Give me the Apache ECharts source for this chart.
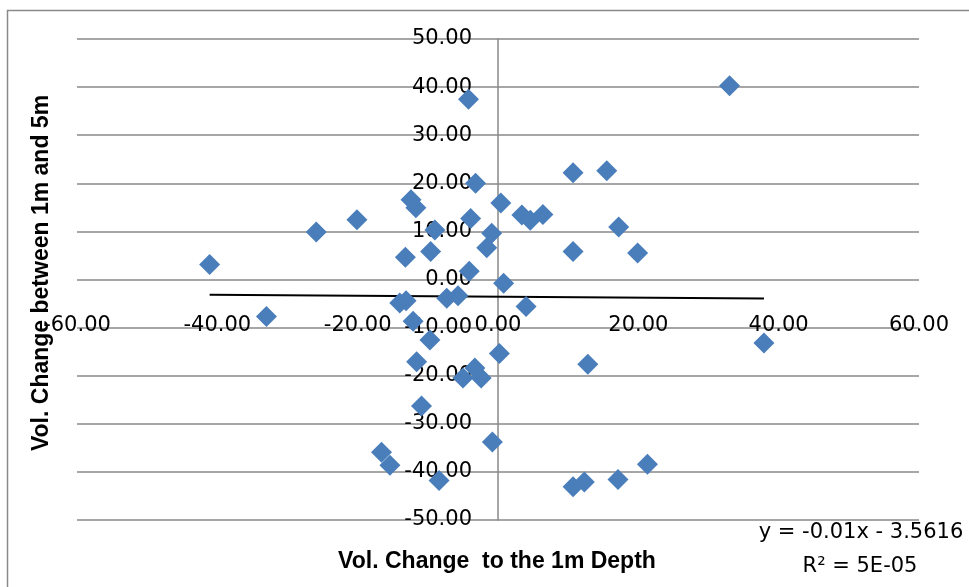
<!DOCTYPE html>
<html>
<head>
<meta charset="utf-8">
<script src="https://cdn.jsdelivr.net/npm/echarts@6/dist/echarts.min.js"></script>
<style>
html,body{margin:0;padding:0;background:#fff;}
#chart{width:969px;height:587px;}
</style>
</head>
<body>
<div id="chart"></div>
<script>
// Data
const xValues = [33.0, -4.2, 10.7, 15.5, -3.2, -12.4, -11.7, 0.4, 3.4, 4.6,
  6.4, -3.9, -20.1, -25.9, -9.0, -0.9, -1.6, -9.6, -13.2, 10.7,
  17.2, 19.9, -4.1, 0.8, -7.3, -5.7, -14.0, -13.1, 4.0, -12.1,
  -9.7, -11.6, 0.2, 12.8, -3.3, -2.4, -5.0, -10.9, -0.8, -16.6,
  -15.4, -8.4, 10.7, 12.3, 17.1, 21.3, 37.9, -41.1, -33.0];
const yValues = [40.3, 37.5, 22.2, 22.6, 20.0, 16.6, 14.9, 15.9, 13.4, 12.3,
  13.5, 12.7, 12.4, 9.9, 10.3, 9.6, 6.6, 5.8, 4.6, 5.8,
  10.9, 5.5, 1.7, -0.8, -3.9, -3.4, -4.9, -4.4, -5.6, -8.7,
  -12.6, -17.1, -15.4, -17.6, -18.4, -20.5, -20.5, -26.3, -33.8, -35.9,
  -38.6, -41.8, -43.1, -42.1, -41.6, -38.4, -13.2, 3.1, -7.7];
const trendSlope = -0.01;
const trendIntercept = -3.5616;
const trendLabel = 'y = -0.01x - 3.5616';
const r2Label = 'R\u00B2 = 5E-05';
const xTitle = 'Vol. Change  to the 1m Depth';
const yTitle = 'Vol. Change between 1m and 5m';

const points = xValues.map((x, i) => [x, yValues[i]]);
const minX = Math.min(...xValues), maxX = Math.max(...xValues);
const trendData = [[minX, trendSlope * minX + trendIntercept], [maxX, trendSlope * maxX + trendIntercept]];

const chart = echarts.init(document.getElementById('chart'), null, {renderer: 'canvas'});
const tickFont = {fontFamily: 'DejaVu Sans', fontSize: 21, color: '#000'};
const gridLeft = 77, gridRight = 50, gridW = 969 - gridLeft - gridRight;
chart.setOption({
  animation: false,
  backgroundColor: '#fff',
  grid: {left: gridLeft, right: gridRight, top: 39, bottom: 67, outerBoundsMode: 'none', containLabel: false},
  xAxis: {
    type: 'value', min: -60, max: 60, interval: 20,
    axisLine: {show: false, onZero: false},
    axisTick: {show: false},
    splitLine: {show: false},
    axisLabel: Object.assign({}, tickFont, {
      margin: -194, verticalAlign: 'middle',
      formatter: v => v.toFixed(2)
    })
  },
  yAxis: {
    type: 'value', min: -50, max: 50, interval: 10,
    offset: -gridW / 2,
    axisLine: {show: true, onZero: false, lineStyle: {color: '#888', width: 1.5}},
    axisTick: {show: false},
    splitLine: {show: true, lineStyle: {color: '#888', width: 1.5}},
    axisLabel: Object.assign({}, tickFont, {
      margin: 26,
      formatter: v => v.toFixed(2)
    })
  },
  series: [
    {
      type: 'line', data: trendData, showSymbol: false, symbol: 'none',
      lineStyle: {color: '#000', width: 2}, z: 1, silent: true
    },
    {
      type: 'scatter', data: points, symbol: 'diamond', symbolSize: 21,
      itemStyle: {color: '#4a7ebb', opacity: 1}, z: 3
    }
  ],
  graphic: [
    {type: 'rect', shape: {x: 7.5, y: 10.5, width: 1000, height: 620},
     style: {fill: 'none', stroke: '#8a8a8a', lineWidth: 1.5}, z: -1, silent: true},
    {type: 'text', x: 497, y: 562,
     style: {text: xTitle, font: 'bold 23px "Liberation Sans"', fill: '#000', textAlign: 'center', textVerticalAlign: 'middle'}},
    {type: 'text', x: 42, y: 273, rotation: Math.PI / 2,
     style: {text: yTitle, font: 'bold 23px "Liberation Sans"', fill: '#000', textAlign: 'center', textVerticalAlign: 'middle'}},
    {type: 'text', x: 861, y: 533,
     style: {text: trendLabel, font: '21px "DejaVu Sans"', fill: '#000', textAlign: 'center', textVerticalAlign: 'middle'}},
    {type: 'text', x: 860, y: 567,
     style: {text: r2Label, font: '21px "DejaVu Sans"', fill: '#000', textAlign: 'center', textVerticalAlign: 'middle'}}
  ]
});
</script>
</body>
</html>
